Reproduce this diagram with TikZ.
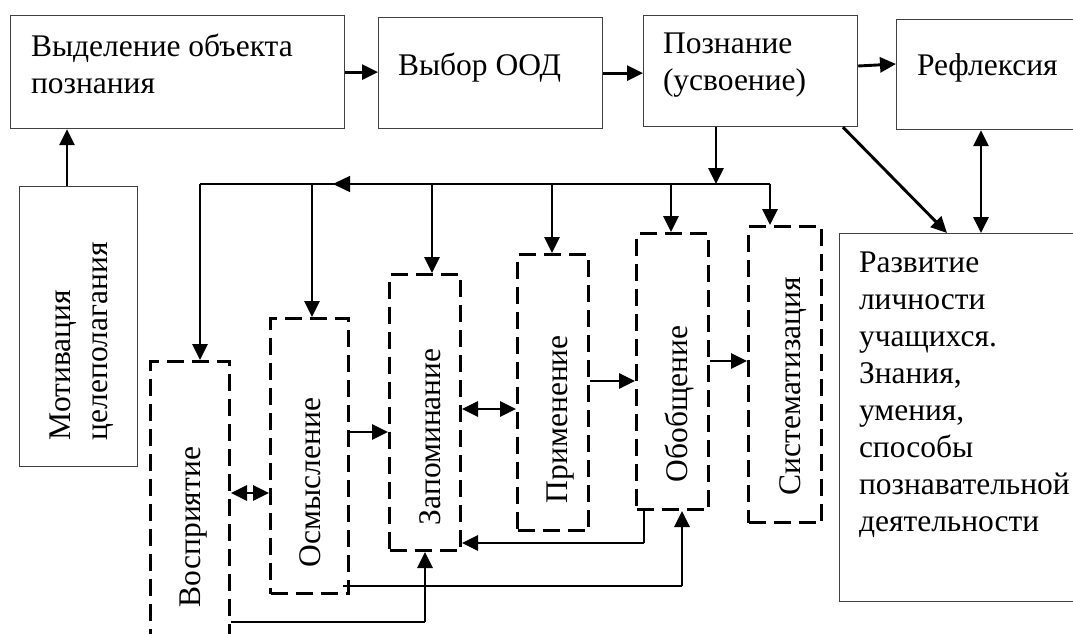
\documentclass[tikz,border=0pt]{standalone}
\usepackage{fontspec}
\setmainfont{Liberation Serif}
\usetikzlibrary{arrows.meta,calc}
\begin{document}
\begin{tikzpicture}[x=1pt,y=-1pt,
  sbox/.style={draw=black!75, line width=1.2pt, inner sep=0pt, anchor=north west},
  dbox/.style={draw=black, line width=3pt, dash pattern=on 17pt off 8pt, inner sep=0pt, anchor=north west},
  lbl/.style={inner sep=0pt, outer sep=0pt, font=\fontsize{31.5}{37}\selectfont, align=left, anchor=base west},
  rlbl/.style={lbl, rotate=90},
  arr/.style={line width=2.9pt, -{Triangle[length=16pt,width=15pt]}},
  darr/.style={line width=2.9pt, {Triangle[length=16pt,width=15pt]}-{Triangle[length=16pt,width=15pt]}},
  thinln/.style={line width=1.3pt},
  busln/.style={line width=1.5pt},
]
\useasboundingbox (0,0) rectangle (1073,633);
\clip (0,0) rectangle (1073,633);

% solid boxes
\node[sbox, minimum width=334pt, minimum height=113pt] (b1) at (10,15) {};
\node[sbox, minimum width=224pt, minimum height=111pt] (b2) at (378,17) {};
\node[sbox, minimum width=214pt, minimum height=111pt] (b3) at (643,15) {};
\node[sbox, minimum width=200pt, minimum height=110pt] (b4) at (896,19) {};
\node[sbox, minimum width=118pt, minimum height=280pt] (mot) at (19,186) {};
\node[sbox, minimum width=250pt, minimum height=368pt] (dev) at (839,233) {};

% dashed boxes
\node[dbox, minimum width=79pt, minimum height=300pt] (vos) at (149,360) {};
\node[dbox, minimum width=78pt, minimum height=275pt] (osm) at (269,317) {};
\node[dbox, minimum width=71pt, minimum height=276pt] (zap) at (388,273) {};
\node[dbox, minimum width=71pt, minimum height=276pt] (pri) at (516,253) {};
\node[dbox, minimum width=72pt, minimum height=276pt] (obo) at (635,232) {};
\node[dbox, minimum width=73pt, minimum height=296pt] (sys) at (747,225) {};

% texts (multi-line nodes anchored at the baseline of their last line)
\node[lbl] (t1) at (31,93) {Выделение объекта\\познания};
\node[lbl] (t2) at (398,75) {Выбор ООД};
\node[lbl] (t3) at (663,90) {Познание\\(усвоение)};
\node[lbl] (t4) at (917,75) {Рефлексия};
\node[lbl] (t5) at (859,531) {Развитие\\личности\\учащихся.\\Знания,\\умения,\\способы\\познавательной\\деятельности};
\node[rlbl] (tm) at (107,440) {Мотивация\\целеполагания};
\node[rlbl] (tv) at (200,607) {Восприятие};
\node[rlbl] (to) at (320,567) {Осмысление};
\node[rlbl] (tz) at (440,525) {Запоминание};
\node[rlbl] (tp) at (567,503) {Применение};
\node[rlbl] (tb) at (687,482) {Обобщение};
\node[rlbl] (ts) at (800,495) {Систематизация};

% top chain
\draw[arr] (b1.east) -- (b1.east -| b2.west);
\draw[arr] (b2.east) -- (b2.east -| b3.west);
\draw[arr] (b3.east |- 0,66) -- (b4.west |- 0,64);
\draw[arr] (mot.north -| 67,0) -- (b1.south -| 67,0);
\draw[arr] (b3.south -| 843,0) -- (dev.north -| 947,0);
\draw[darr] (b4.south -| 981,0) -- (dev.north -| 981,0);

% bus
\coordinate (busL) at (200,184);
\coordinate (busR) at (770,184);
\draw[arr] (b3.south -| 716,0) -- (busR -| 716,0);
\draw[busln] (busR) -- (busL);
\draw[busln, -{Triangle[length=17pt,width=16pt]}] (364,184) -- (333,184);
\draw[arr] (busL) -- (busL |- vos.north);
\draw[arr] (busL -| 312,0) -- (osm.north -| 312,0);
\draw[arr] (busL -| 432,0) -- (zap.north -| 432,0);
\draw[arr] (busL -| 552,0) -- (pri.north -| 552,0);
\draw[arr] (busL -| 671,0) -- (obo.north -| 671,0);
\draw[arr] (busR) -- (busR |- sys.north);

% side links
\draw[darr] (vos.east |- 0,493) -- (osm.west |- 0,493);
\draw[arr] (osm.east |- 0,432) -- (zap.west |- 0,432);
\draw[darr] (zap.east |- 0,409) -- (pri.west |- 0,409);
\draw[arr] (pri.east |- 0,381) -- (obo.west |- 0,381);
\draw[arr] (obo.east |- 0,361) -- (sys.west |- 0,361);

% feedback links
\coordinate (c3) at (644,543);
\draw[thinln] (obo.south -| c3) -- (c3);
\draw[arr] (c3) -- (c3 -| zap.east);
\coordinate (c1) at (682,586);
\draw[thinln] ([xshift=-7pt]osm.east |- c1) -- (c1);
\draw[arr] (c1) -- (c1 |- obo.south);
\coordinate (c2) at (425,622);
\draw[thinln] (vos.east |- c2) -- (c2);
\draw[arr] (c2) -- (c2 |- zap.south);
\end{tikzpicture}
\end{document}
